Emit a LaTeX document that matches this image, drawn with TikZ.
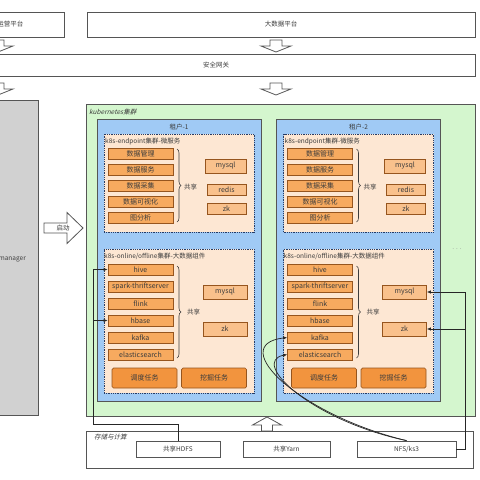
\documentclass[tikz,border=0pt]{standalone}
\usepackage{fontspec}
\setmainfont{Noto Sans CJK SC}
\newfontfamily\slantcjk{Noto Sans CJK SC}[FakeSlant=0.25]
\usetikzlibrary{decorations.pathreplacing,arrows.meta}
\definecolor{kgreen}{RGB}{212,246,206}
\definecolor{kblue}{RGB}{160,202,245}
\definecolor{kpeach}{RGB}{253,231,211}
\definecolor{korange}{RGB}{247,170,95}
\definecolor{kborder}{RGB}{150,85,30}
\definecolor{klight}{RGB}{249,193,140}
\definecolor{ktask}{RGB}{242,148,62}
\definecolor{kdot}{RGB}{40,60,100}
\definecolor{kline}{RGB}{85,85,85}
\definecolor{ktext}{RGB}{60,60,60}
\newcommand\tenantblk[3]{%
\begin{scope}[xshift=#3]
\node[tbox, minimum width=164pt, minimum height=282pt] (#1box) at (179,260) {};
\node[txt] (#1lab) at (179,127) {#2};
\node[dbox, minimum width=150pt, minimum height=98pt] (#1ep) at (179,183) {};
\node[txt, anchor=west] (#1epl) at (105,142) {k8s-endpoint集群-微服务};
\node[item] (#1a) at (140.5,153.5) {数据管理};
\node[item] (#1b) at (140.5,169.5) {数据服务};
\node[item] (#1c) at (140.5,185.5) {数据采集};
\node[item] (#1d) at (140.5,201.5) {数据可视化};
\node[item] (#1e) at (140.5,217.5) {图分析};
\draw[brc] (177,149) -- (177,222);
\node[txt, anchor=west] (#1sh) at (184,187) {共享};
\node[svc, minimum width=41pt, minimum height=14pt] (#1mysql) at (225.5,166) {mysql};
\node[svc, minimum width=39pt, minimum height=11pt] (#1redis) at (226.5,189.5) {redis};
\node[svc, minimum width=39pt, minimum height=11pt] (#1zk) at (226.5,208.5) {zk};
\node[dbox, minimum width=150pt, minimum height=144pt] (#1bd) at (179,321) {};
\node[txt, anchor=west] (#1bdl) at (104,256) {k8s-online/offline集群-大数据组件};
\node[item] (#1hive) at (140.5,269.5) {hive};
\node[item] (#1spark) at (140.5,286.5) {spark-thriftserver};
\node[item] (#1flink) at (140.5,303.5) {flink};
\node[item] (#1hbase) at (140.5,320.5) {hbase};
\node[item] (#1kafka) at (140.5,337.5) {kafka};
\node[item] (#1es) at (140.5,354.5) {elasticsearch};
\draw[brc] (177,266) -- (177,358);
\node[txt, anchor=west] (#1sh2) at (187,312) {共享};
\node[svc, minimum width=44pt, minimum height=14pt] (#1lmysql) at (225,292) {mysql};
\node[svc, minimum width=44pt, minimum height=14pt] (#1lzk) at (225,329) {zk};
\node[task] (#1t1) at (144.5,378) {调度任务};
\node[task] (#1t2) at (214,378) {挖掘任务};
\end{scope}}
\begin{document}
\begin{tikzpicture}[x=1pt,y=-1pt,
  txt/.style={font=\fontsize{6.5pt}{7pt}\selectfont, text=ktext, inner sep=0pt},
  big/.style={font=\fontsize{7pt}{7.5pt}\selectfont, text=ktext, inner sep=0pt},
  plat/.style={draw=kline, line width=0.8pt, fill=white, txt},
  tbox/.style={draw=kline, line width=0.8pt, fill=kblue},
  dbox/.style={draw=kdot, line width=0.9pt, dash pattern=on 0.9pt off 0.9pt, fill=kpeach},
  item/.style={draw=kborder, line width=0.7pt, fill=korange, big, minimum width=65pt, minimum height=11pt},
  svc/.style={draw=kborder, line width=0.7pt, fill=klight, big},
  task/.style={draw=kborder, line width=0.7pt, fill=ktask, big, rounded corners=1.5pt, minimum width=65pt, minimum height=20pt},
  brc/.style={draw=ktext, line width=0.6pt, decorate, decoration={brace, amplitude=4pt}},
  harrow/.style={draw=kline, line width=0.8pt, fill=white},
  conn/.style={draw=black!85, line width=0.7pt},
  tip/.style={-{Latex[length=4pt,width=3.5pt]}},
  hdown/.pic={\draw[harrow] (-6,0) -- (6,0) -- (6,6) -- (15,6) -- (0,12) -- (-15,6) -- (-6,6) -- cycle;},
  hup/.pic={\draw[harrow] (-5.5,0) -- (5.5,0) -- (5.5,-6) -- (14.5,-6) -- (0,-14) -- (-14.5,-6) -- (-5.5,-6) -- cycle;}
]
\useasboundingbox (0,0) rectangle (480,480);
\fill[white] (0,0) rectangle (480,480);
% top platform boxes
\node[plat, minimum width=107pt, minimum height=25pt] (yy) at (10.5,24.5) {运营平台};
\node[plat, minimum width=388pt, minimum height=25pt] (dsj) at (281,24.5) {大数据平台};
\pic at (-2,40) {hdown};
\pic at (276,40) {hdown};
\node[plat, minimum width=518pt, minimum height=22pt] (aq) at (216,65) {安全网关};
\pic at (-2,83) {hdown};
\pic at (276,83) {hdown};
% left manager box
\node[draw=kline, line width=0.8pt, fill=black!18, minimum width=81pt, minimum height=315pt] (rm) at (-2.5,257.5) {};
\node[txt, anchor=east] (rmt) at (26,259) {manager};
\draw[harrow] (44,223) -- (67,223) -- (67,212.5) -- (83,228) -- (67,243.5) -- (67,233) -- (44,233) -- cycle;
\node[txt] (qd) at (63,228) {启动};
% kubernetes cluster
\node[draw=kline, line width=0.8pt, fill=kgreen, minimum width=389pt, minimum height=312pt] (k8s) at (280.5,260) {};
\node[txt, anchor=west] (k8sl) at (89,112) {\slantcjk kubernetes集群};
\tenantblk{A}{租户-1}{0pt}
\tenantblk{B}{租户-2}{179.5pt}
\node[txt, text=black!45] (dots) at (457,249) {. . .};
% storage
\pic at (267,431) {hup};
\node[plat, minimum width=387pt, minimum height=37pt] (st) at (279.5,449.5) {};
\node[txt, anchor=west] (stl) at (94,437) {\slantcjk 存储与计算};
\node[plat, minimum width=84pt, minimum height=16pt] (hdfs) at (178,449) {共享HDFS};
\node[plat, minimum width=87pt, minimum height=16pt] (yarn) at (286.5,449) {共享Yarn};
\node[plat, minimum width=99pt, minimum height=16pt] (nfs) at (406.5,449) {NFS/ks3};
% connectors
\coordinate (hj) at (93,424);
\draw[conn, tip] (hdfs.north) |- (hj) |- (Ahive.west);
\draw[conn, tip] (hj) |- (Ahbase.west);
\coordinate (nj) at (465,449);
\draw[conn, tip] (nfs.east) -- (nj) |- (Blmysql.east);
\draw[conn, tip] (nj) |- (Blzk.east);
\draw[conn, tip] (nfs.north) .. controls (300,415) and (225,345) .. (Bkafka.west);
\draw[conn, tip] (nfs.north) .. controls (310,420) and (250,362) .. (Bes.west);
\end{tikzpicture}
\end{document}
